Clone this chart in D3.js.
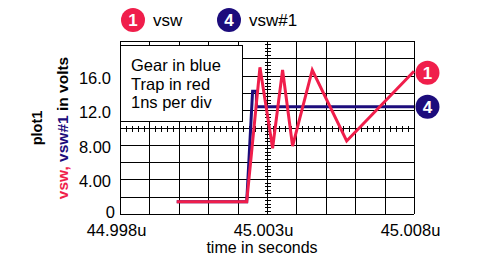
<!DOCTYPE html>
<html lang="en">
<head>
    <meta charset="UTF-8">
    <title>plot1 - vsw, vsw#1</title>
    <style>
        body { margin: 0; background: #fff; }
        svg { display: block; font-family: "Liberation Sans", Arial, Helvetica, sans-serif; }
    </style>
</head>
<body>
    <svg id="chart"></svg>

    <script src="https://d3js.org/d3.v7.min.js"></script>
    <script>
        // Trace data: time in microseconds, value in volts
        const redTime  = [44.99993, 45.00231, 45.00276, 45.00319, 45.00353, 45.00387, 45.00454, 45.00571, 45.008];
        const redVolts = [1.42, 1.42, 16.96, 7.6, 16.65, 7.86, 16.65, 8.44, 16.5];
        const blueTime  = [44.99993, 45.00231, 45.00251, 45.00264, 45.00264, 45.008];
        const blueVolts = [1.42, 1.42, 14.2, 14.2, 12.4, 12.4];

        const xTickValues = [44.998, 45.003, 45.008];
        const yTickValues = [0, 4, 8, 12, 16];
        const yTickLabels = ['0', '4.00', '8.00', '12.0', '16.0'];
        const noteLines = ['Gear in blue', 'Trap in red', '1ns per div'];
        const traces = [
            { name: 'vsw', id: '1', color: '#f01e4b' },
            { name: 'vsw#1', id: '4', color: '#1c0c7c' }
        ];

        const width = 477, height = 275;
        const svg = d3.select('#chart').attr('width', width).attr('height', height);

        const x = d3.scaleLinear().domain([44.998, 45.008]).range([120, 414]);
        const y = d3.scaleLinear().domain([0, 20]).range([214, 41]);

        // grid: 1ns per div, 2V per div
        const xGrid = d3.range(0, 11).map(i => 44.998 + i * 0.001);
        const yGrid = d3.range(0, 11).map(i => i * 2);
        const grid = svg.append('g').attr('stroke', '#000').attr('stroke-width', 1).attr('shape-rendering', 'crispEdges');
        grid.selectAll('.vg').data(xGrid).enter().append('line')
            .attr('x1', d => Math.round(x(d)) + 0.5).attr('x2', d => Math.round(x(d)) + 0.5)
            .attr('y1', y(20)).attr('y2', y(0));
        grid.selectAll('.hg').data(yGrid).enter().append('line')
            .attr('y1', d => Math.round(y(d)) + 0.5).attr('y2', d => Math.round(y(d)) + 0.5)
            .attr('x1', x(44.998)).attr('x2', x(45.008));

        // centre axes with minor ticks
        const cx = Math.round(x(45.003)) + 0.5;
        const cy = Math.round(y(10)) + 0.5;
        const xMinor = d3.range(0, 51).map(i => 44.998 + i * 0.0002);
        const yMinor = d3.range(0, 51).map(i => i * 0.4);
        grid.selectAll('.xm').data(xMinor).enter().append('line')
            .attr('x1', d => Math.round(x(d)) + 0.5).attr('x2', d => Math.round(x(d)) + 0.5)
            .attr('y1', cy - 3).attr('y2', cy + 3);
        grid.selectAll('.ym').data(yMinor).enter().append('line')
            .attr('y1', d => Math.round(y(d)) + 0.5).attr('y2', d => Math.round(y(d)) + 0.5)
            .attr('x1', cx - 3).attr('x2', cx + 3);

        // note box
        const box = svg.append('g');
        box.append('rect')
            .attr('x', 120.5).attr('y', 45.5).attr('width', 122).attr('height', 76)
            .attr('fill', '#fff').attr('stroke', '#000').attr('shape-rendering', 'crispEdges');
        box.selectAll('text').data(noteLines).enter().append('text')
            .attr('x', 131).attr('y', (d, i) => 71 + i * 18.5)
            .attr('font-size', 16.5).text(d => d);

        // traces
        const line = d3.line().x(d => x(d[0])).y(d => y(d[1]));
        const bluePts = blueTime.map((t, i) => [t, blueVolts[i]]);
        const redPts = redTime.map((t, i) => [t, redVolts[i]]);
        svg.append('path').datum(bluePts).attr('d', line)
            .attr('fill', 'none').attr('stroke', traces[1].color).attr('stroke-width', 3);
        svg.append('path').datum(redPts).attr('d', line)
            .attr('fill', 'none').attr('stroke', traces[0].color).attr('stroke-width', 3);

        // end markers
        function marker(px, py, t) {
            const g = svg.append('g').attr('transform', `translate(${px},${py})`);
            g.append('circle').attr('r', 12).attr('fill', t.color);
            g.append('text').attr('text-anchor', 'middle').attr('dy', '0.36em')
                .attr('fill', '#fff').attr('font-size', 17).attr('font-weight', 'bold').text(t.id);
        }
        marker(x(45.008) + 13.5, y(redVolts[redVolts.length - 1]) + 1.5, traces[0]);
        marker(x(45.008) + 13.5, y(blueVolts[blueVolts.length - 1]), traces[1]);

        // top legend
        const legendX = [133, 229];
        traces.forEach((t, i) => {
            marker(legendX[i], 20, t);
            svg.append('text').attr('x', legendX[i] + 20).attr('y', 26)
                .attr('font-size', 17).text(t.name);
        });

        // axis labels
        svg.selectAll('.xl').data(xTickValues).enter().append('text')
            .attr('x', d => x(d) - 3.5).attr('y', 236)
            .attr('text-anchor', 'middle').attr('font-size', 16.5)
            .text(d => d.toFixed(3) + 'u');
        svg.selectAll('.yl').data(yTickValues).enter().append('text')
            .attr('x', d => d === 0 ? 115 : 111).attr('y', d => d === 0 ? y(d) + 3.5 : y(d) + 8)
            .attr('text-anchor', 'end').attr('font-size', 16.5)
            .text((d, i) => yTickLabels[i]);

        svg.append('text').attr('x', 262).attr('y', 253)
            .attr('text-anchor', 'middle').attr('font-size', 16).text('time in seconds');

        svg.append('text').attr('transform', 'translate(42,128) rotate(-90)')
            .attr('text-anchor', 'middle').attr('font-size', 14.5).attr('font-weight', 'bold').text('plot1');

        const yTitle = svg.append('text').attr('transform', 'translate(68,128) rotate(-90)')
            .attr('text-anchor', 'middle').attr('font-size', 15.5).attr('font-weight', 'bold');
        yTitle.append('tspan').attr('fill', traces[0].color).text('vsw, ');
        yTitle.append('tspan').attr('fill', traces[1].color).text('vsw#1');
        yTitle.append('tspan').attr('fill', '#000').text(' in volts');
    </script>
</body>
</html>
